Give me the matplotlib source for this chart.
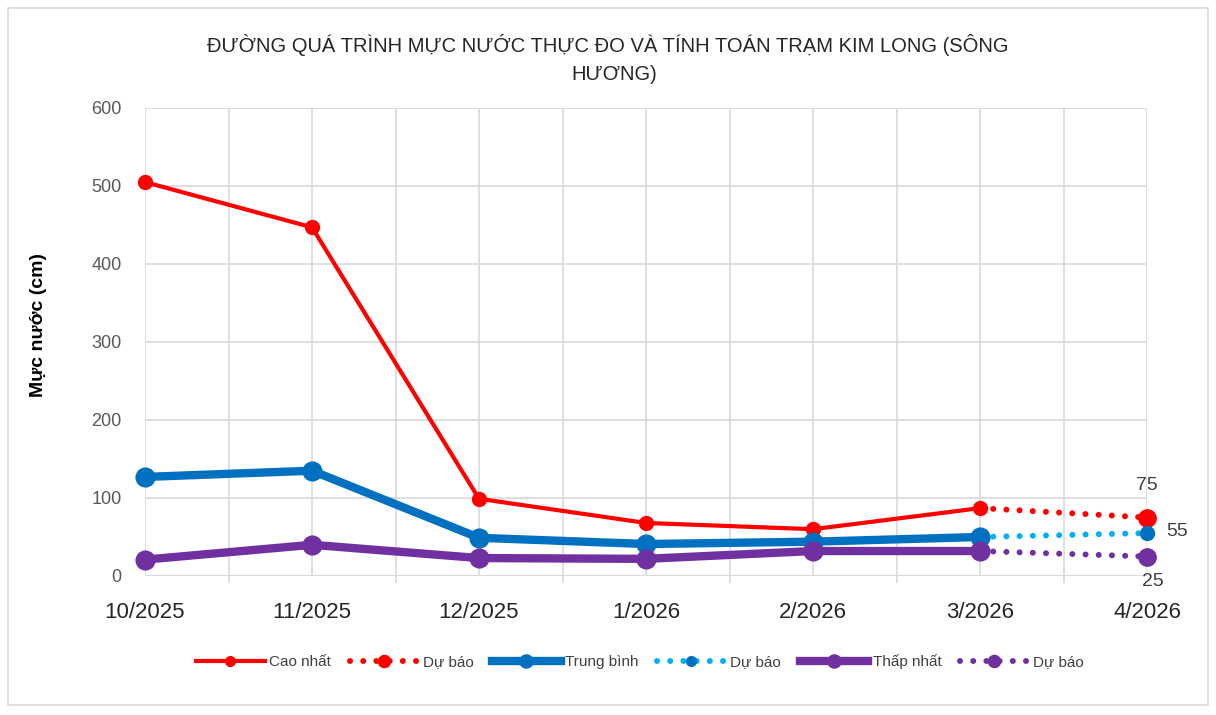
import numpy as np
import matplotlib.pyplot as plt
from matplotlib.patches import Rectangle

plt.rcParams['font.family'] = ['Liberation Sans', 'DejaVu Sans']

# du lieu
thang = ['10/2025', '11/2025', '12/2025', '1/2026', '2/2026', '3/2026', '4/2026']
cao_nhat = [505, 447, 99, 68, 60, 87]
trung_binh = [127, 135, 49, 41, 44, 50]
thap_nhat = [21, 40, 23, 22, 32, 32]
# du bao: 3/2026 -> 4/2026
du_bao_cao = [87, 75]
du_bao_tb = [50, 55]
du_bao_thap = [32, 25]

fig = plt.figure(figsize=(12.16, 7.15), dpi=100)
fig.patches.append(Rectangle((8 / 1216, 10 / 715), 1200 / 1216, 697 / 715,
                             transform=fig.transFigure, fill=False,
                             edgecolor='#d9d9d9', linewidth=1.2))
ax = fig.add_axes([145 / 1216, 139 / 715, 1002 / 1216, 468 / 715])

x = np.arange(len(thang))
xm = x[:6]
xf = x[5:7]
cham = (0, (0.01, 2.2))

ax.plot(xm, cao_nhat, color='#FF0000', lw=3, marker='o', ms=10, zorder=5, clip_on=False, label='Cao nhất')
ax.plot(xf, du_bao_cao, color='#FF0000', lw=4.3, ls=cham, dash_capstyle='round', marker='o', ms=12.5,
        markevery=[1], zorder=4, clip_on=False, label='Dự báo')
ax.plot(xm, trung_binh, color='#0070C0', lw=6, marker='o', ms=13.5, zorder=5, clip_on=False, label='Trung bình')
ax.plot(xf, du_bao_tb, color='#00B0F0', lw=4.3, ls=cham, dash_capstyle='round', marker='o', ms=10,
        markevery=[1], markerfacecolor='#0070C0', markeredgecolor='#0070C0', zorder=4, clip_on=False,
        label='Dự báo')
ax.plot(xm, thap_nhat, color='#7030A0', lw=6, marker='o', ms=13.5, zorder=5, clip_on=False, label='Thấp nhất')
ax.plot(xf, du_bao_thap, color='#7030A0', lw=4.3, ls=cham, dash_capstyle='round', marker='o', ms=12.5,
        markevery=[1], zorder=4, clip_on=False, label='Dự báo')

# nhan du lieu
ax.annotate(str(du_bao_cao[1]), (xf[1], du_bao_cao[1]), xytext=(0, 17), textcoords='offset points',
            ha='center', va='bottom', fontsize=14, color='#404040', annotation_clip=False)
ax.annotate(str(du_bao_tb[1]), (xf[1], du_bao_tb[1]), xytext=(14, 1), textcoords='offset points',
            ha='left', va='center', fontsize=14, color='#404040', annotation_clip=False)
ax.annotate(str(du_bao_thap[1]), (xf[1], du_bao_thap[1]), xytext=(4, -12), textcoords='offset points',
            ha='center', va='top', fontsize=14, color='#404040', annotation_clip=False)

ax.set_xlim(0, 6)
ax.set_ylim(0, 600)
ax.set_yticks(range(0, 601, 100))
ax.set_xticks(x)
ax.set_xticklabels(thang, fontsize=16, color='#262626')
ax.set_xticks(np.arange(0.5, 6, 1), minor=True)
ax.tick_params(axis='y', labelsize=13, colors='#595959', length=0, pad=17)
ax.tick_params(axis='x', which='major', length=0, pad=19)
ax.tick_params(axis='x', which='minor', length=5, color='#d9d9d9', width=1.2)
ax.grid(True, which='both', color='#d9d9d9', lw=1.2)
ax.set_axisbelow(True)
for s in ax.spines.values():
    s.set_visible(False)
ax.axhline(0, color='#d9d9d9', lw=1.5, zorder=1)

ax.set_ylabel('Mực nước (cm)', fontsize=14, fontweight='bold', color='black')
ax.yaxis.set_label_coords((47 - 145) / 1002, (576 - 325) / 468)

fig.text(0.5, 1 - 45 / 715, 'ĐƯỜNG QUÁ TRÌNH MỰC NƯỚC THỰC ĐO VÀ TÍNH TOÁN TRẠM KIM LONG (SÔNG',
         ha='center', va='center', fontsize=14.5, color='#262626')
fig.text(0.505, 1 - 75 / 715, 'HƯƠNG)', ha='center', va='center', fontsize=14.5, color='#262626')

fig.legend(loc='center', bbox_to_anchor=(640 / 1216, 1 - 662 / 715), ncol=6, frameon=False,
           fontsize=11, handlelength=4.5, columnspacing=1.2, handletextpad=0.3,
           markerscale=0.7, labelcolor='#404040')

fig.savefig('out.png', dpi=100)
